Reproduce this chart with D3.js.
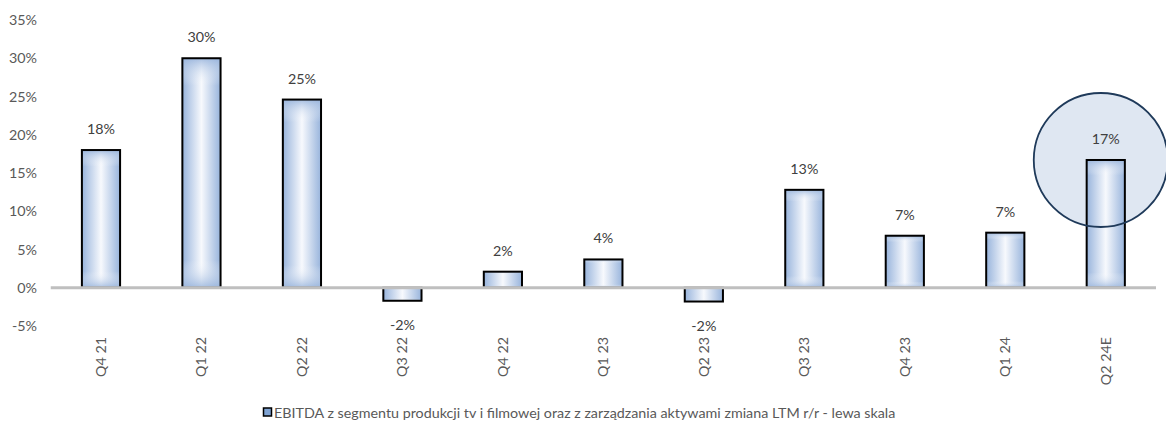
<!DOCTYPE html>
<html><head><meta charset="utf-8">
<script src="https://cdn.jsdelivr.net/npm/d3@7"></script>
<style>body{margin:0;background:#fff}svg{display:block}text{font-family:Lato,"Open Sans",sans-serif}</style>
</head><body><svg id="c" width="1166" height="426"></svg>
<script>
const categories=["Q4 21","Q1 22","Q2 22","Q3 22","Q4 22","Q1 23","Q2 23","Q3 23","Q4 23","Q1 24","Q2 24E"];
const values=[18.0,30.0,24.6,-1.7,2.1,3.7,-1.8,12.8,6.8,7.2,16.7];
const yTicks=[-5,0,5,10,15,20,25,30,35];
const legendLabel="EBITDA z segmentu produkcji tv i filmowej oraz z zarządzania aktywami zmiana LTM r/r - lewa skala";
const highlight="Q2 24E";

const FS=14.3;
const svg=d3.select("#c");
const x=d3.scaleBand().domain(categories).range([50.75,1156]).paddingInner(0.62).paddingOuter(0.31);
const y=d3.scaleLinear().domain([-5,35]).range([326,20]);

const defs=svg.append("defs");
const g=defs.append("linearGradient").attr("id","gh").attr("x1","0").attr("x2","1").attr("y1","0").attr("y2","0");
g.append("stop").attr("offset","0").attr("stop-color","#98b4dc");
g.append("stop").attr("offset","0.5").attr("stop-color","#f7f9fd");
g.append("stop").attr("offset","1").attr("stop-color","#98b4dc");
const gv=defs.append("linearGradient").attr("id","gv").attr("x1","0").attr("x2","0").attr("y1","0").attr("y2","1");
gv.append("stop").attr("offset","0").attr("stop-color","#98b4dc").attr("stop-opacity",0.85);
gv.append("stop").attr("offset","0.12").attr("stop-color","#ffffff").attr("stop-opacity",0);
gv.append("stop").attr("offset","0.88").attr("stop-color","#ffffff").attr("stop-opacity",0);
gv.append("stop").attr("offset","1").attr("stop-color","#98b4dc").attr("stop-opacity",0.85);

// y axis labels
const ya=svg.append("g").attr("transform","translate(37,0)").call(d3.axisLeft(y).tickValues(yTicks).tickSize(0).tickPadding(0).tickFormat(d=>d+"%"));
ya.select(".domain").remove();
ya.selectAll("text").attr("font-size",FS).attr("fill","#595959").attr("font-family","Lato,sans-serif");

// highlight circle fill (behind bars)
const hi=categories.indexOf(highlight);
const cx=x(highlight)+x.bandwidth()/2-5, cy=y(values[hi])-0, r=67;
svg.append("circle").attr("cx",cx).attr("cy",cy).attr("r",r).attr("fill","#dfe7f2");

// bars
const bars=svg.append("g");
bars.selectAll("rect.b").data(values).join("rect").attr("class","b")
 .attr("x",(d,i)=>x(categories[i])).attr("width",x.bandwidth())
 .attr("y",d=>y(Math.max(0,d))).attr("height",d=>Math.abs(y(d)-y(0)))
 .attr("fill","url(#gh)");
bars.selectAll("rect.v").data(values).join("rect").attr("class","v")
 .attr("x",(d,i)=>x(categories[i])).attr("width",x.bandwidth())
 .attr("y",d=>y(Math.max(0,d))).attr("height",d=>Math.abs(y(d)-y(0)))
 .attr("fill","url(#gv)").attr("stroke","#000").attr("stroke-width",2);

// zero line
svg.append("line").attr("x1",50.75).attr("x2",1156).attr("y1",y(0)).attr("y2",y(0)).attr("stroke","#bfbfbf").attr("stroke-width",3);

// circle outline on top
svg.append("circle").attr("cx",cx).attr("cy",cy).attr("r",r)
 .attr("fill","none").attr("stroke","#1f3a5a").attr("stroke-width",1.8);

// data labels
svg.append("g").selectAll("text").data(values).join("text")
 .attr("x",(d,i)=>x(categories[i])+x.bandwidth()/2)
 .attr("y",d=>d>=0?y(d)-16:y(d)+29)
 .attr("text-anchor","middle").attr("font-size",FS).attr("fill","#404040")
 .text(d=>Math.round(d)+"%");

// x labels
svg.append("g").selectAll("text").data(categories).join("text")
 .attr("transform",d=>`translate(${x(d)+x.bandwidth()/2+5},337) rotate(-90)`)
 .attr("text-anchor","end").attr("font-size",FS).attr("fill","#595959").text(d=>d);

// legend
const lg=svg.append("g");
lg.append("rect").attr("x",263.5).attr("y",408).attr("width",8).attr("height",8).attr("fill","#7fa3d3").attr("stroke","#000").attr("stroke-width",1.5);
lg.append("text").attr("x",274).attr("y",418).attr("font-size",FS).attr("fill","#595959").text(legendLabel);
</script></body></html>
